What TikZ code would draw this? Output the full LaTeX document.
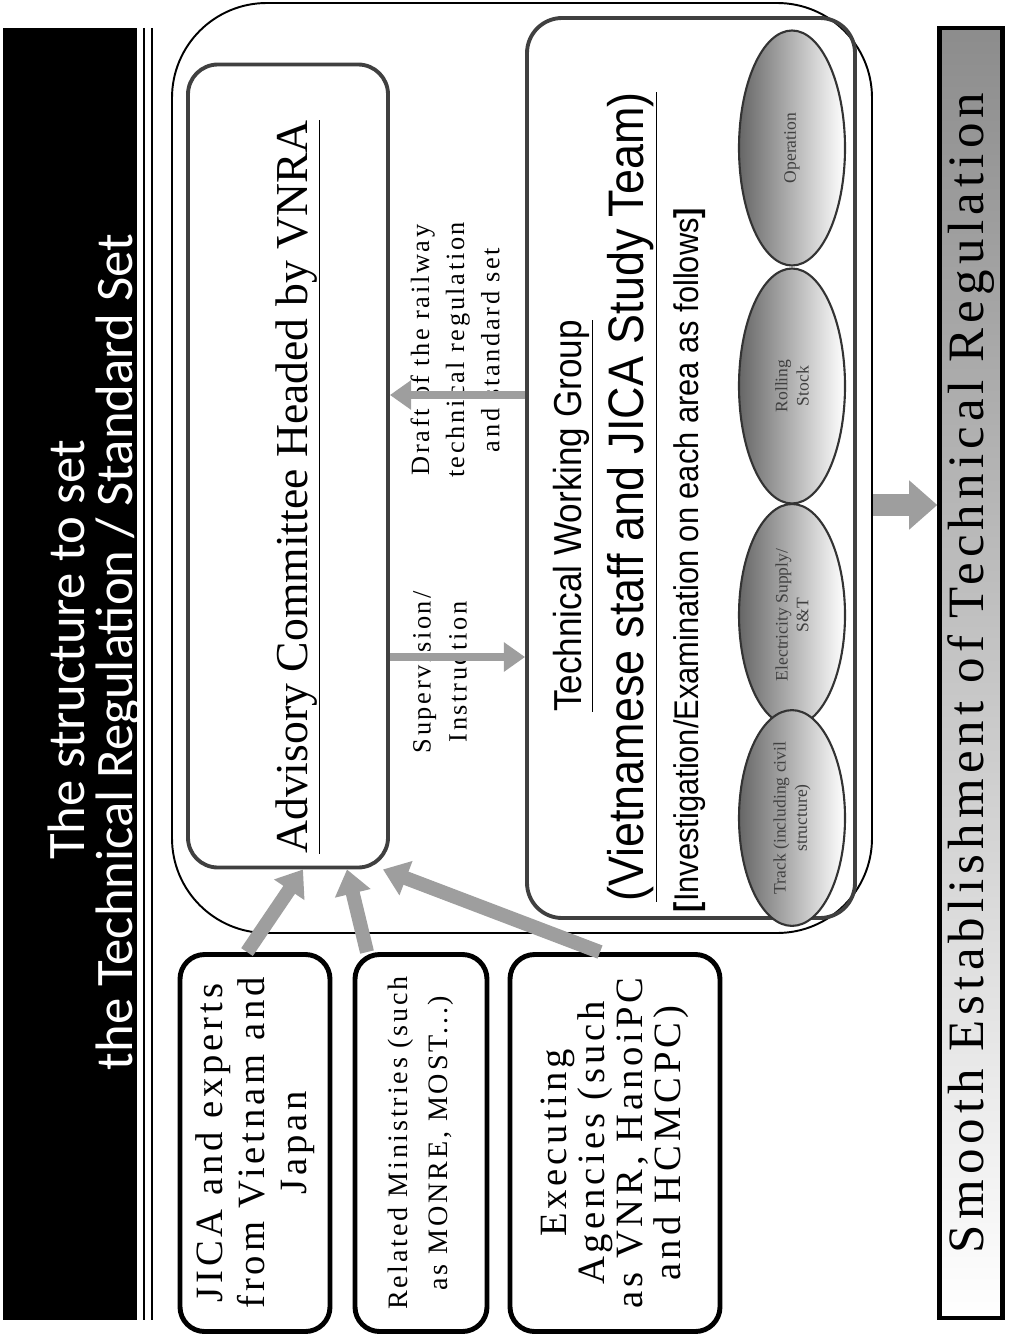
\documentclass[tikz,border=0pt]{standalone}
\usepackage{fontspec}
\setmainfont{Liberation Serif}
\newfontfamily\titlefont{Carlito}
\newfontfamily\narrowfont[FakeStretch=0.9]{Liberation Sans}
\newfontfamily\spacedfont[LetterSpace=10]{Liberation Serif}
\usetikzlibrary{shapes.geometric,arrows.meta,calc}
\def\px{0.02cm}
\newcommand{\sideways}[1]{\rotatebox{90}{\shortstack{#1}}}
\begin{document}
\begin{tikzpicture}[x=0.02cm, y=-0.02cm,
    upright/.style={rotate=90, inner sep=0pt},
    roundbox/.style={upright, draw, rounded corners=#1},
    sourcebox/.style={roundbox=14pt, line width=2.8pt, align=center, minimum width=377*\px},
    areablob/.style={ellipse, draw=black!80, line width=1.2pt, left color=black!60, right color=white, inner sep=0pt,
      minimum width=106*\px, font=\fontsize{10}{13}\selectfont, text=black!75},
    blockarrow/.style={draw=black!38, line width=5pt, -{Triangle[length=12pt, width=16pt]}},
    slantarrow/.style={draw=black!38, line width=8pt, -{Triangle[length=14pt, width=20pt]}},
    bigarrow/.style={draw=black!38, line width=12pt, -{Triangle[length=16pt, width=27pt]}},
  ]
  \useasboundingbox (0,0) rectangle (1017,1338);

  % title banner
  \fill (3,28) rectangle (137,1320);
  \draw[line width=1.7pt] (144,28) -- (144,1320) (152,28) -- (152,1320);
  \node[upright, text=white, font=\titlefont\fontsize{30}{30}\selectfont] (title) at (66,650) {The structure to set};
  \node[upright, text=white, font=\titlefont\fontsize{30}{30}\selectfont] (subtitle) at (119,652) {the Technical Regulation / Standard Set};

  % committee and working group
  \node[roundbox=54pt, line width=1.1pt, minimum width=930*\px, minimum height=700*\px] (frame) at (522,468) {};
  \node[roundbox=17pt, draw=black!75, line width=2.2pt, minimum width=803*\px, minimum height=200*\px] (adv) at (288,466) {};
  \node[upright, font=\fontsize{26}{30}\selectfont] (advtitle) at (298,487) {\underline{Advisory Committee Headed by VNRA}};

  \node[upright, align=center, font=\spacedfont\fontsize{15}{20.4}\selectfont] (sup) at (440,672) {Supervision/\\Instruction};
  \node[upright, align=center, font=\spacedfont\fontsize{15}{20}\selectfont] (draft) at (455,350) {Draft of the railway\\technical regulation\\and standard set};

  \node[roundbox=20pt, draw=black!75, line width=2.2pt, minimum width=900*\px, minimum height=328*\px] (twg) at (691,468) {};
  \node[upright, font=\narrowfont\fontsize{22.2}{22}\selectfont] (twgtitle) at (573,516) {\underline{Technical Working Group}};
  \node[upright, font=\narrowfont\fontsize{28.4}{28}\selectfont] (twgteam) at (632,497) {\underline{(Vietnamese staff and JICA Study Team)}};
  \node[upright, font=\narrowfont\fontsize{19.5}{20}\selectfont] (twgnote) at (690,560) {\textbf{[}Investigation/Examination on each area as follows\textbf{]}};

  \node[areablob, minimum height=235*\px] (operation) at (792,148) {\sideways{Operation}};
  \node[areablob, minimum height=235*\px] (rolling) at (792,386) {\sideways{Rolling\\Stock}};
  \node[areablob, minimum height=222*\px] (power) at (792,615) {\sideways{Electricity Supply/\\S\&T}};
  \node[areablob, minimum height=188*\px] (track) at (792,818) {\sideways{Track (including civil\\structure)}};

  \coordinate (supY) at (0,657);
  \coordinate (draftY) at (0,395);
  \draw[blockarrow] (adv.south |- supY) -- (twg.north |- supY);
  \draw[blockarrow] (twg.north |- draftY) -- (adv.south |- draftY);

  % outcome
  \node[upright, draw, line width=2.5pt, top color=black!45, bottom color=white,
    minimum width=1290*\px, minimum height=63*\px, font=\spacedfont\fontsize{29}{29}\selectfont] (smooth) at (971,673)
    {Smooth Establishment of Technical Regulation};
  \coordinate (smoothY) at (0,505);
  \draw[bigarrow] (frame.south |- smoothY) -- (smooth.north |- smoothY);

  % participants
  \node[sourcebox, minimum height=150*\px, font=\spacedfont\fontsize{22}{24}\selectfont] (jica) at (255,1143)
    {JICA and experts\\from Vietnam and\\Japan};
  \node[sourcebox, minimum height=132*\px, font=\spacedfont\fontsize{16}{22.7}\selectfont] (rel) at (421,1143)
    {Related Ministries (such\\as MONRE, MOST...)};
  \node[sourcebox, minimum height=210*\px, font=\spacedfont\fontsize{22}{21.7}\selectfont] (exec) at (615,1143)
    {Executing\\Agencies (such\\as VNR, HanoiPC\\and HCMCPC)};

  \draw[slantarrow] ($(jica.east)+(-8,0)$) -- ($(adv.west)+(15,0)$);
  \draw[slantarrow] ($(rel.east)+(-54,0)$) -- ($(adv.west)+(59,0)$);
  \draw[slantarrow] ($(exec.east)+(-15,0)$) -- ($(adv.west)+(95,0)$);
\end{tikzpicture}
\end{document}
